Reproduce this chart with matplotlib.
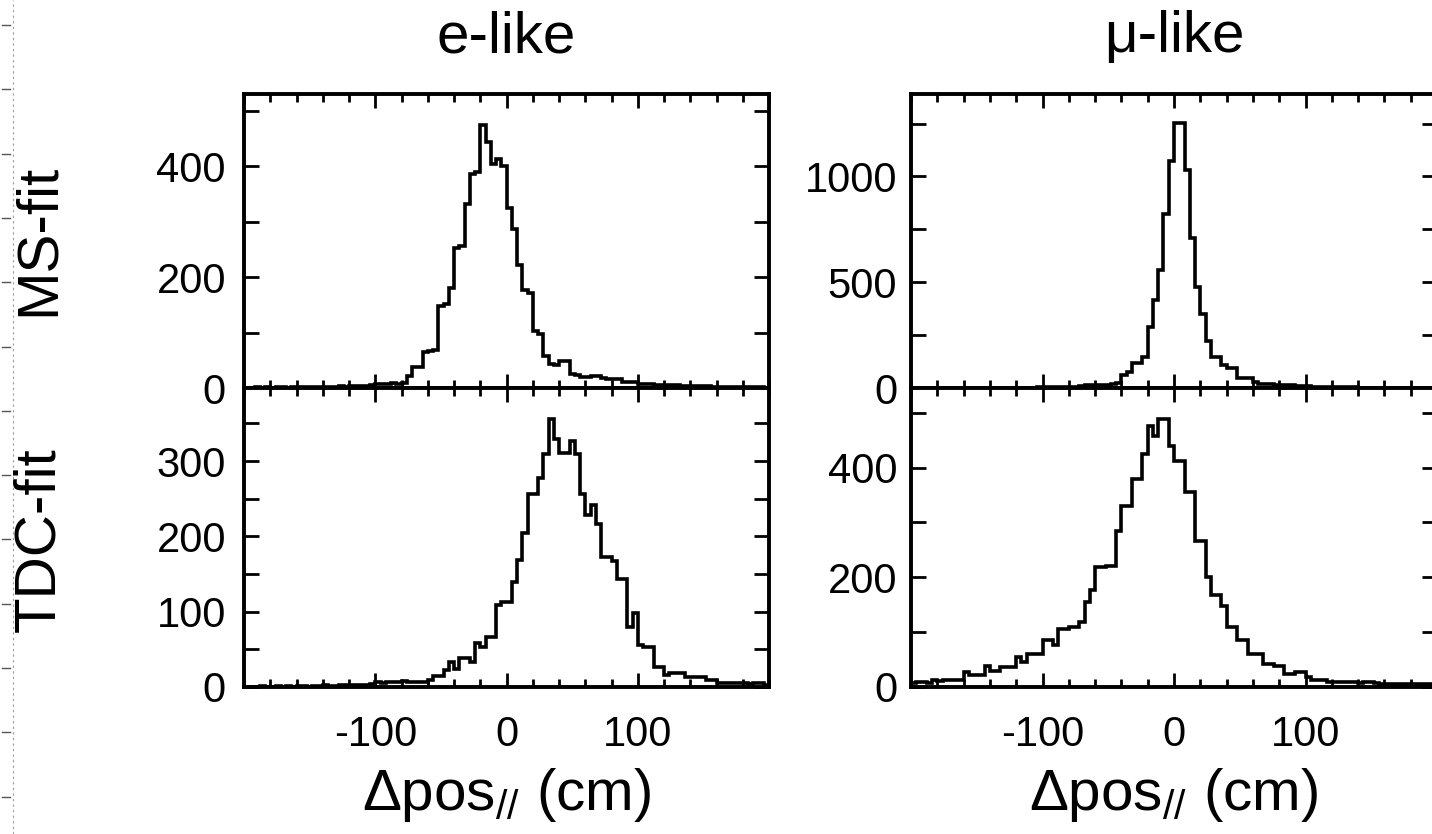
import numpy as np
import matplotlib
matplotlib.use("Agg")
import matplotlib.pyplot as plt
from matplotlib.ticker import MultipleLocator, FixedLocator
from matplotlib.lines import Line2D

plt.rcParams["font.family"] = ["Liberation Sans", "DejaVu Sans"]
plt.rcParams["mathtext.fontset"] = "custom"
plt.rcParams["mathtext.rm"] = "Liberation Sans"
plt.rcParams["mathtext.it"] = "Liberation Sans:italic"
plt.rcParams["axes.unicode_minus"] = False

# Histogram binning: 4 cm bins from -200 to 200 cm
bin_lo, bin_hi, bin_width = -200, 200, 4
edges = np.arange(bin_lo, bin_hi + bin_width, bin_width)
x_major_ticks = [-100, 0, 100]

# e-like, MS-fit
e_ms_counts = [
    0, 0, 1, 0, 1, 0, 1, 1, 0, 1,
    1, 2, 1, 1, 2, 1, 2, 2, 3, 2,
    3, 3, 4, 3, 5, 8, 7, 8, 9, 8,
    9, 22, 37, 37, 64, 66, 69, 148, 152, 180,
    252, 256, 331, 385, 390, 474, 444, 403, 412, 400,
    325, 287, 221, 176, 172, 102, 98, 58, 43, 42,
    49, 48, 26, 24, 19, 20, 22, 21, 18, 17,
    16, 17, 11, 10, 10, 8, 7, 7, 6, 6,
    5, 5, 5, 4, 4, 4, 3, 3, 3, 2,
    2, 2, 2, 1, 1, 1, 1, 1, 1, 0,
]

# e-like, TDC-fit
e_tdc_counts = [
    0, 0, 0, 1, 0, 0, 1, 0, 1, 0,
    1, 1, 0, 1, 1, 2, 1, 1, 2, 2,
    2, 3, 2, 3, 4, 6, 5, 6, 7, 6,
    8, 6, 7, 7, 7, 9, 14, 14, 22, 33,
    24, 38, 38, 33, 58, 53, 67, 67, 109, 113,
    113, 140, 169, 204, 256, 256, 278, 309, 356, 329,
    311, 311, 327, 309, 256, 229, 242, 216, 173, 173,
    167, 144, 144, 80, 98, 56, 53, 53, 27, 27,
    16, 19, 19, 19, 13, 13, 13, 13, 9, 9,
    5, 5, 5, 5, 5, 5, 4, 5, 5, 3,
]

# mu-like, MS-fit
mu_ms_counts = [
    0, 0, 0, 0, 0, 1, 0, 0, 1, 0,
    0, 1, 1, 0, 1, 1, 1, 1, 1, 2,
    1, 2, 2, 2, 3, 3, 3, 4, 4, 5,
    5, 6, 8, 12, 12, 12, 12, 12, 18, 23,
    60, 77, 117, 117, 147, 288, 414, 558, 821, 1072,
    1252, 1252, 1033, 711, 476, 350, 224, 146, 146, 111,
    96, 96, 49, 49, 49, 28, 17, 17, 17, 12,
    12, 12, 12, 10, 8, 8, 7, 6, 5, 5,
    4, 4, 3, 3, 3, 2, 2, 2, 1, 1,
    1, 1, 1, 0, 1, 0, 0, 1, 0, 0,
]

# mu-like, TDC-fit
mu_tdc_counts = [
    8, 9, 9, 8, 12, 11, 12, 12, 13, 12,
    27, 21, 21, 22, 39, 30, 30, 36, 36, 36,
    55, 45, 61, 61, 61, 85, 85, 76, 106, 106,
    109, 109, 118, 155, 176, 218, 218, 221, 221, 285,
    330, 330, 379, 379, 424, 476, 458, 488, 488, 439,
    412, 412, 355, 355, 267, 267, 200, 167, 167, 148,
    109, 109, 85, 85, 61, 61, 61, 42, 42, 39,
    39, 24, 24, 28, 28, 18, 12, 12, 12, 9,
    9, 9, 9, 9, 9, 8, 9, 9, 8, 6,
    6, 6, 5, 6, 6, 5, 6, 6, 5, 6,
]

column_titles = ["e-like", "\u03bc-like"]
row_labels = ["MS-fit", "TDC-fit"]
x_label = "\u0394pos$_{//}$ (cm)"

W, H = 1432, 834
fig = plt.figure(figsize=(W / 100, H / 100), dpi=100)
fig.patch.set_facecolor("white")


def add_px_axes(x0, y0, x1, y1):
    return fig.add_axes([x0 / W, 1 - y1 / H, (x1 - x0) / W, (y1 - y0) / H])


def style(ax, counts, ytop, ymajor, yminor, ypad, bottom_row):
    ax.stairs(counts, edges, color="black", linewidth=2.6)
    ax.set_xlim(bin_lo, bin_hi)
    ax.set_ylim(0, ytop)
    ax.xaxis.set_major_locator(FixedLocator(x_major_ticks))
    ax.xaxis.set_minor_locator(MultipleLocator(20))
    ax.yaxis.set_major_locator(MultipleLocator(ymajor))
    ax.yaxis.set_minor_locator(MultipleLocator(yminor))
    ax.tick_params(which="both", direction="in", top=True, right=True,
                   width=2.0, labelsize=30, colors="black")
    ax.tick_params(axis="x", which="major", length=10, pad=20)
    ax.tick_params(axis="x", which="minor", length=6)
    ax.tick_params(axis="y", which="both", length=10.5, pad=ypad)
    ax.tick_params(axis="x", labelbottom=bottom_row)
    for s in ax.spines.values():
        s.set_linewidth(2.8)
    if bottom_row:
        ax.set_xlabel(x_label, fontsize=42, labelpad=8)


ax_tl = add_px_axes(244, 94, 769, 388)
ax_bl = add_px_axes(244, 388, 769, 687)
ax_tr = add_px_axes(911, 94, 1437, 388)
ax_br = add_px_axes(911, 388, 1437, 687)

style(ax_tl, e_ms_counts, 530, 200, 100, 13, False)
style(ax_bl, e_tdc_counts, 397, 100, 50, 13, True)
style(ax_tr, mu_ms_counts, 1390, 500, 250, 10, False)
style(ax_br, mu_tdc_counts, 545, 200, 100, 10, True)

ax_tl.set_title(column_titles[0], fontsize=42, pad=30)
ax_tr.set_title(column_titles[1], fontsize=42, pad=30)

fig.text(39 / W, 1 - 240 / H, row_labels[0], rotation=90, fontsize=42,
         ha="center", va="center")
fig.text(39 / W, 1 - 540 / H, row_labels[1], rotation=90, fontsize=42,
         ha="center", va="center")

# page-edge guide: dotted rule with small dashes
fig.add_artist(Line2D([13 / W, 13 / W], [0, 1], transform=fig.transFigure,
                      color="#9a9a9a", linewidth=0.8, linestyle=(0, (2, 3))))
for k in range(13):
    yy = 1 - (25 + 64.3 * k) / H
    fig.add_artist(Line2D([2 / W, 10 / W], [yy, yy], transform=fig.transFigure,
                          color="#555555", linewidth=1.0))

fig.savefig("out.png", dpi=100, facecolor="white")
